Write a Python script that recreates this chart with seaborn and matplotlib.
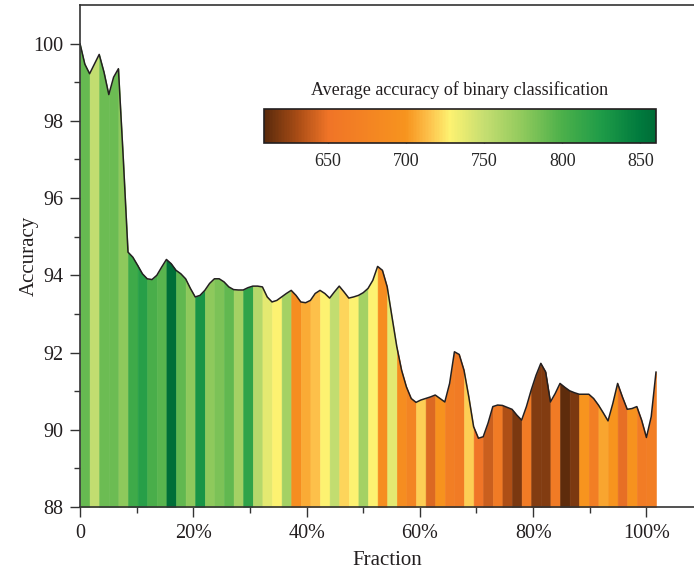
import numpy as np
import matplotlib
matplotlib.use("Agg")
import matplotlib.pyplot as plt
import seaborn as sns
from matplotlib.colors import LinearSegmentedColormap, Normalize
import matplotlib.cm as cm

# ---- data ----
# colour value (average accuracy of binary classification) of each stripe
stripe_values = [790, 752, 788, 788, 775, 808, 820, 802, 795, 858,
                 792, 775, 830, 775, 782, 792, 765, 815, 758, 738,
                 728, 765, 690, 708, 714, 728, 752, 720, 728, 765,
                 728, 690, 738, 690, 675, 718, 645, 698, 665, 660,
                 718, 652, 640, 660, 632, 618, 660, 620, 620, 660,
                 610, 618, 700, 665, 706, 700, 648, 698, 662, 665]

# accuracy at each stripe boundary
boundary_acc = [100.0, 99.22, 99.72, 98.68, 99.35, 94.60, 94.26, 93.91, 94.00, 94.41,
                94.13, 93.91, 93.44, 93.61, 93.91, 93.83, 93.63, 93.62, 93.72, 93.70,
                93.31, 93.44, 93.61, 93.31, 93.35, 93.61, 93.41, 93.72, 93.41, 93.48,
                93.66, 94.23, 93.70, 92.15, 91.11, 90.71, 90.81, 90.90, 90.72, 92.02,
                91.54, 90.08, 89.82, 90.60, 90.63, 90.53, 90.25, 91.03, 91.72, 90.72,
                91.20, 91.01, 90.92, 90.92, 90.64, 90.23, 91.20, 90.53, 90.60, 89.80,
                91.50]

# accuracy at the middle of each stripe
mid_acc = [99.47, 99.47, 99.26, 99.13, 97.06, 94.47, 94.04, 93.89, 94.21, 94.30,
           94.04, 93.66, 93.48, 93.79, 93.91, 93.70, 93.62, 93.68, 93.72, 93.44,
           93.35, 93.53, 93.48, 93.29, 93.53, 93.53, 93.57, 93.57, 93.44, 93.55,
           93.87, 94.13, 92.92, 91.54, 90.81, 90.77, 90.85, 90.81, 91.20, 91.95,
           90.85, 89.78, 90.17, 90.64, 90.58, 90.38, 90.60, 91.41, 91.50, 90.94,
           91.10, 90.96, 90.92, 90.81, 90.44, 90.68, 90.85, 90.55, 90.25, 90.34]

y_ticks = [88, 90, 92, 94, 96, 98, 100]
y_minor = [89, 91, 93, 95, 97, 99]
x_ticks = [0, 20, 40, 60, 80, 100]
x_minor = [10, 30, 50, 70, 90]
x_tick_labels = ["0", "20%", "40%", "60%", "80%", "100%"]
cbar_ticks = [650, 700, 750, 800, 850]
cbar_range = (609, 860)

# colormap anchors (value, colour)
cmap_anchor_vals = [609, 630, 650, 700, 715, 728, 750, 775, 800, 825, 850, 860]
cmap_anchor_cols = ["#5a2a0c", "#a84c15", "#f07427", "#f7941e", "#fdc24c", "#fdf271",
                    "#c6de71", "#8fc95c", "#4cb04a", "#1f9c48", "#007a3d", "#006c37"]

# ---- styling ----
sns.set_style("ticks")
plt.rcParams["font.family"] = ["Liberation Serif", "DejaVu Serif"]
plt.rcParams["axes.edgecolor"] = "#333333"

lo, hi = cbar_range
cmap = LinearSegmentedColormap.from_list(
    "acc", [((v - lo) / (hi - lo), c) for v, c in zip(cmap_anchor_vals, cmap_anchor_cols)])
norm = Normalize(lo, hi)

fig = plt.figure(figsize=(6.94, 5.76), dpi=100)
ax = fig.add_axes([80 / 694, 69 / 576, 614 / 694, 502 / 576])

n = len(stripe_values)
step = 100.0 / (n - 1)
curve_y = []
for i in range(n):
    curve_y += [boundary_acc[i], mid_acc[i]]
curve_y.append(boundary_acc[n])
curve_y = np.array(curve_y)
curve_x = np.arange(len(curve_y)) * step / 2.0

for i, v in enumerate(stripe_values):
    col = cmap(norm(v))
    seg = slice(2 * i, 2 * i + 3)
    ax.fill_between(curve_x[seg], curve_y[seg], 88, color=col, ec=col, lw=0.4)

sns.lineplot(x=curve_x, y=curve_y, sort=False, color="#231f20", lw=1.1, ax=ax)

ax.set_xlim(0, 108.4)
ax.set_ylim(88, 101)
ax.set_xticks(x_ticks)
ax.set_xticklabels(x_tick_labels)
ax.set_xticks(x_minor, minor=True)
ax.set_yticks(y_ticks)
ax.set_yticks(y_minor, minor=True)
ax.tick_params(which="major", direction="out", length=7, width=1, color="#333333",
               labelsize=14.5, pad=5, labelcolor="#231f20")
ax.tick_params(which="minor", direction="out", length=4, width=1, color="#333333")
ax.spines["right"].set_visible(False)
for s in ["left", "bottom", "top"]:
    ax.spines[s].set_linewidth(1.2)
ax.set_xlabel("Fraction", fontsize=15, color="#231f20", labelpad=6)
ax.set_ylabel("Accuracy", fontsize=15, color="#231f20", labelpad=-4)

# ---- colour bar ----
cax = fig.add_axes([264 / 694, (576 - 143) / 576, 392 / 694, 34 / 576])
sm = cm.ScalarMappable(norm=norm, cmap=cmap)
cb = fig.colorbar(sm, cax=cax, orientation="horizontal")
cb.set_ticks(cbar_ticks)
cb.outline.set_linewidth(1.2)
cb.outline.set_edgecolor("#231f20")
cax.tick_params(direction="in", length=5, width=1, color="#333333", top=True, bottom=True,
                labeltop=False, labelbottom=True, labelsize=13, pad=7)
cax.set_title("Average accuracy of binary classification", fontsize=13,
              color="#231f20", pad=10)

fig.savefig("out.png", dpi=100)
